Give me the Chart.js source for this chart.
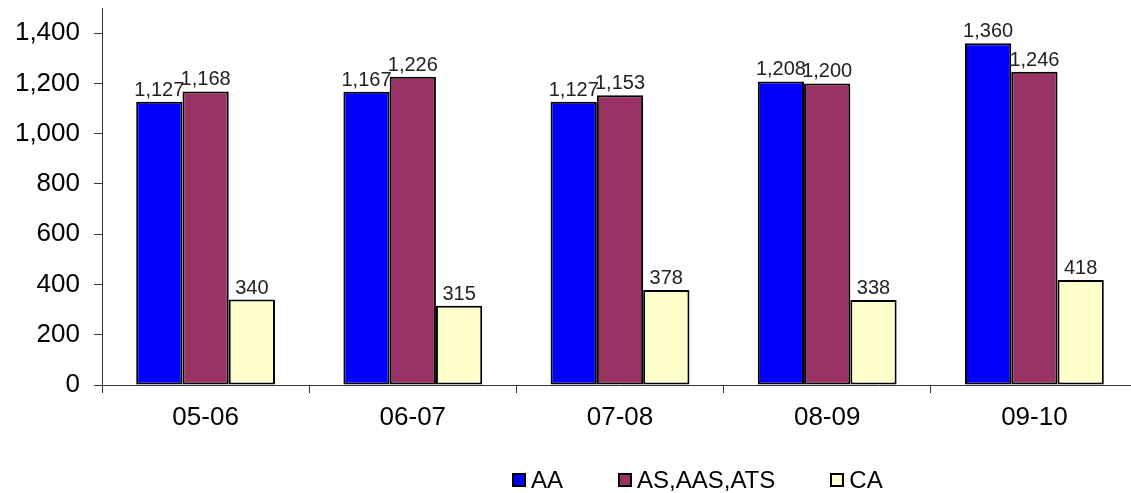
<!DOCTYPE html>
<html>
<head>
<meta charset="utf-8">
<script src="https://cdn.jsdelivr.net/npm/chart.js@4"></script>
<style>
  html, body { margin: 0; padding: 0; background: #fff; overflow: hidden; }
  #wrap { position: relative; width: 1138px; height: 493px; }
  #legend {
    position: absolute; left: 512px; top: 466px;
    display: flex; gap: 55px;
    font-family: "Liberation Sans", Arial, sans-serif; font-size: 24px; color: #000;
  }
  #legend .item { display: flex; align-items: center; }
  #legend .box { width: 10px; height: 10px; border: 2px solid #000; margin-right: 5px; }
</style>
</head>
<body>
<div id="wrap">
  <canvas id="chart"></canvas>
  <div id="legend"></div>
</div>
<script>
const years = ['05-06', '06-07', '07-08', '08-09', '09-10'];
const aa = [1127, 1167, 1127, 1208, 1360];
const asAasAts = [1168, 1226, 1153, 1200, 1246];
const ca = [340, 315, 378, 338, 418];
const seriesNames = ['AA', 'AS,AAS,ATS', 'CA'];
const seriesColors = ['#0000FF', '#993366', '#FFFFCC'];

const font = '"Liberation Sans", Arial, sans-serif';

// value labels above each bar
const barLabels = {
  id: 'barLabels',
  afterDatasetsDraw(chart) {
    const c = chart.ctx;
    c.save();
    c.font = '20px ' + font;
    c.fillStyle = '#222';
    c.textAlign = 'center';
    c.textBaseline = 'alphabetic';
    chart.data.datasets.forEach((ds, i) => {
      chart.getDatasetMeta(i).data.forEach((bar, j) => {
        c.fillText(ds.data[j].toLocaleString('en-US'), bar.x, bar.y - 6);
      });
    });
    c.restore();
  }
};

const ctx = document.getElementById('chart').getContext('2d');
const chart = new Chart(ctx, {
  type: 'bar',
  data: {
    labels: years,
    datasets: [aa, asAasAts, ca].map((d, i) => ({
      label: seriesNames[i],
      data: d,
      backgroundColor: seriesColors[i],
      borderColor: '#000',
      borderWidth: 2,
      borderSkipped: false,
      categoryPercentage: 0.67,
      barPercentage: 1.0
    }))
  },
  options: {
    responsive: true,
    maintainAspectRatio: false,
    animation: false,
    layout: { padding: { top: 8, right: 0, left: 0, bottom: 0 } },
    plugins: {
      legend: { display: false },
      tooltip: { enabled: false }
    },
    scales: {
      x: {
        grid: { drawOnChartArea: false, drawTicks: true, tickLength: 8, color: '#333', offset: true },
        border: { color: '#333', width: 1 },
        ticks: { color: '#000', font: { family: font, size: 26 }, padding: 9 },
        afterFit(scale) { scale.height = 108; }
      },
      y: {
        min: 0,
        max: 1500,
        grid: { drawOnChartArea: false, drawTicks: true, tickLength: 8, color: '#333' },
        border: { color: '#333', width: 1 },
        ticks: {
          stepSize: 100,
          color: '#000',
          font: { family: font, size: 26 },
          padding: 14,
          callback: v => v.toLocaleString('en-US')
        },
        afterBuildTicks(scale) {
          scale.ticks = scale.ticks.filter(t => t.value % 200 === 0);
        },
        afterFit(scale) {
          scale.width = 102;
          scale.paddingTop = 0;
          scale.paddingBottom = 0;
        }
      }
    }
  },
  plugins: [barLabels]
});

const legend = document.getElementById('legend');
seriesNames.forEach((name, i) => {
  const item = document.createElement('div');
  item.className = 'item';
  item.innerHTML = `<span class="box" style="background:${seriesColors[i]}"></span><span>${name}</span>`;
  legend.appendChild(item);
});
</script>
</body>
</html>
